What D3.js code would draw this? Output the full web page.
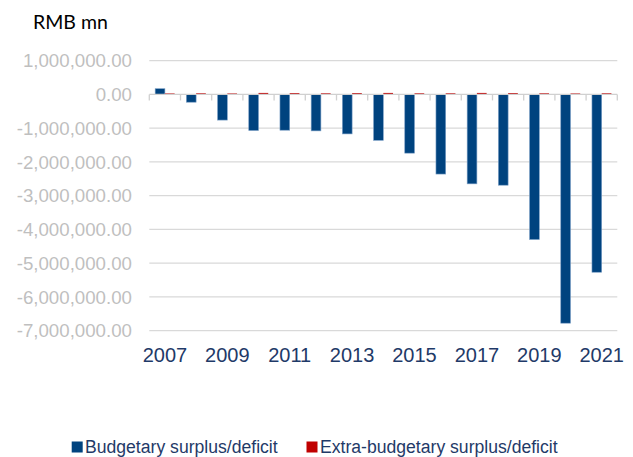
<!DOCTYPE html>
<html>
<head>
<meta charset="utf-8">
<script src="https://cdn.jsdelivr.net/npm/d3@7"></script>
<style>
  html, body { margin: 0; padding: 0; background: #fff; }
  svg { display: block; font-family: "Liberation Sans", Arial, sans-serif; }
</style>
</head>
<body>
<svg id="chart" width="633" height="457"></svg>
<script>
// Fiscal balance, RMB million
const years = ["2007","2008","2009","2010","2011","2012","2013","2014","2015","2016","2017","2018","2019","2020","2021"];
const budgetary = [170000, -230000, -760000, -1070000, -1060000, -1080000, -1170000, -1360000, -1740000, -2360000, -2650000, -2690000, -4300000, -6780000, -5270000];
const extraBudgetary = [30000, 35000, 30000, 45000, 40000, 35000, 40000, 45000, 35000, 35000, 45000, 40000, 35000, 30000, 35000];
const seriesNames = ["Budgetary surplus/deficit", "Extra-budgetary surplus/deficit"];
const seriesColors = ["#00437f", "#c00000"];
const yTicks = [1000000, 0, -1000000, -2000000, -3000000, -4000000, -5000000, -6000000, -7000000];
const xLabelYears = ["2007","2009","2011","2013","2015","2017","2019","2021"];

const svg = d3.select("#chart");
const plotLeft = 149.3, plotRight = 617.3, plotTop = 60.7, plotBottom = 330.6;

const x = d3.scaleBand().domain(years).range([plotLeft, plotRight]).padding(0);
const bw = x.bandwidth();
const x1 = d3.scaleBand().domain(seriesNames).range([bw * 0.188, bw * 0.812]).padding(0);
const y = d3.scaleLinear().domain([-7000000, 1000000]).range([plotBottom, plotTop]);

// Horizontal gridlines
svg.append("g")
  .selectAll("line")
  .data(yTicks.filter(d => d !== 0))
  .join("line")
  .attr("x1", plotLeft).attr("x2", plotRight)
  .attr("y1", d => y(d)).attr("y2", d => y(d))
  .attr("stroke", "#d9d9d9").attr("stroke-width", 1.3);

// Y tick labels
const fmt = d3.format(",.2f");
svg.append("g")
  .selectAll("text")
  .data(yTicks)
  .join("text")
  .attr("x", 132)
  .attr("y", d => y(d))
  .attr("dy", "0.36em")
  .attr("text-anchor", "end")
  .attr("font-size", 18.7)
  .attr("fill", "#bfbfbf")
  .text(d => fmt(d).replace("−", "-"));

// Bars
const rows = years.map((yr, i) => ({ year: yr, values: [budgetary[i], extraBudgetary[i]] }));
const groups = svg.append("g")
  .selectAll("g")
  .data(rows)
  .join("g")
  .attr("transform", d => `translate(${x(d.year)},0)`);

groups.selectAll("rect")
  .data(d => d.values.map((v, k) => ({ name: seriesNames[k], value: v, k })))
  .join("rect")
  .attr("x", d => x1(d.name))
  .attr("width", x1.bandwidth())
  .attr("y", d => y(Math.max(0, d.value)))
  .attr("height", d => Math.abs(y(d.value) - y(0)))
  .attr("fill", d => seriesColors[d.k])
  .attr("stroke", d => d.k === 0 ? "#7b9fc6" : "none")
  .attr("stroke-width", 0.6);

// Zero axis with tick marks at band boundaries
const axisG = svg.append("g").attr("transform", `translate(0,${y(0)})`);
axisG.append("line")
  .attr("x1", plotLeft).attr("x2", plotRight)
  .attr("stroke", "#d0d0d0").attr("stroke-width", 1.3);
axisG.selectAll("line.tick")
  .data(years.concat(["end"]))
  .join("line")
  .attr("class", "tick")
  .attr("x1", (d, i) => plotLeft + i * bw).attr("x2", (d, i) => plotLeft + i * bw)
  .attr("y1", 0).attr("y2", 6)
  .attr("stroke", "#d0d0d0").attr("stroke-width", 1.3);

// X labels (every other year)
svg.append("g")
  .selectAll("text")
  .data(xLabelYears)
  .join("text")
  .attr("x", d => x(d) + bw / 2)
  .attr("y", 361.5)
  .attr("text-anchor", "middle")
  .attr("font-size", 20)
  .attr("fill", "#1f3a68")
  .text(d => d);

// Unit label
svg.append("text")
  .attr("x", 33).attr("y", 28.5)
  .attr("font-family", "Lato, 'Liberation Sans', sans-serif")
  .attr("font-size", 19.5)
  .attr("fill", "#000")
  .text("RMB mn");

// Legend
const legendItems = [
  { name: seriesNames[0], color: seriesColors[0], sx: 71.7, tx: 85 },
  { name: seriesNames[1], color: seriesColors[1], sx: 306.5, tx: 320 }
];
const lg = svg.append("g");
legendItems.forEach(it => {
  lg.append("rect").attr("x", it.sx).attr("y", 441.5).attr("width", 11).attr("height", 11).attr("fill", it.color);
  lg.append("text").attr("x", it.tx).attr("y", 453).attr("font-size", 17.6).attr("fill", "#1f3a68").text(it.name);
});
</script>
</body>
</html>
